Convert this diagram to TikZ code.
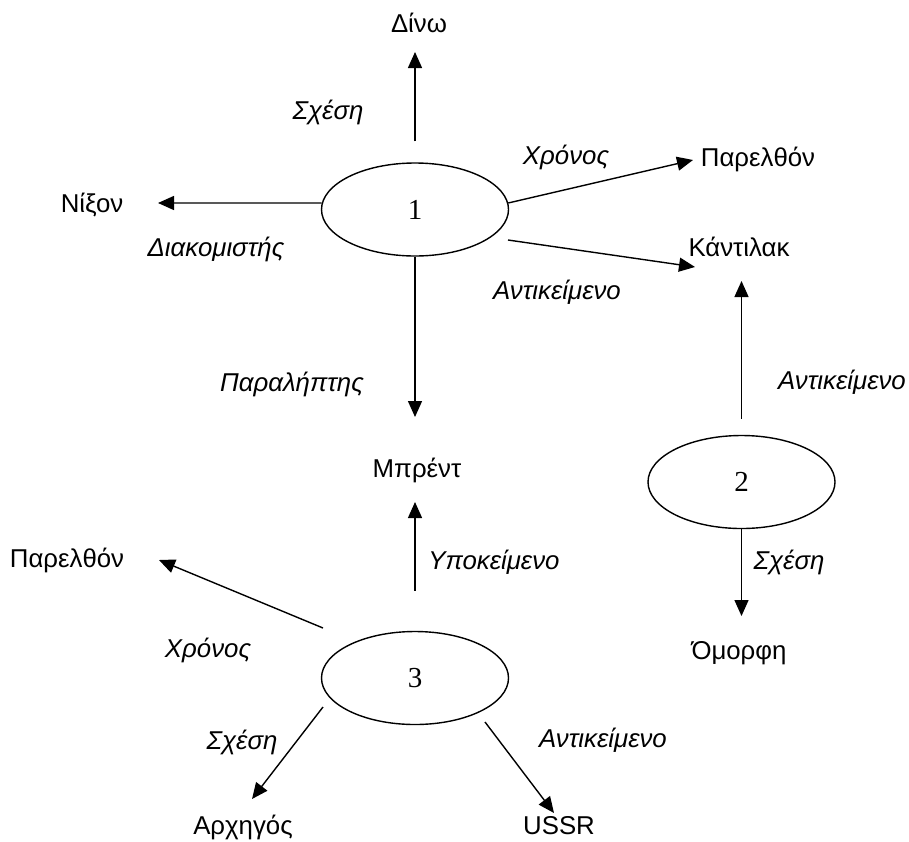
\documentclass[tikz,border=0pt]{standalone}
\usepackage{fontspec}
\setmainfont{Liberation Sans}
\newfontfamily\numfont{Liberation Serif}
\usetikzlibrary{arrows.meta,shapes.geometric}

\tikzset{
  lbl/.style={anchor=base, inner sep=0pt, font=\fontsize{25.8}{30}\selectfont},
  rel/.style={lbl, font=\fontsize{25.8}{30}\selectfont\itshape},
  event/.style={ellipse, draw, line width=1.4pt, minimum width=187pt,
    minimum height=93pt, inner sep=0pt, font=\fontsize{29}{34}\selectfont\numfont},
  arr/.style={-{Triangle[length=16pt,width=14pt]}, line width=1.4pt},
}

\begin{document}
\begin{tikzpicture}[x=1pt, y=-1pt]
\useasboundingbox (0,0) rectangle (909,841);

% event nodes
\node[event] (e1) at (415,209.5) {1};
\node[event] (e2) at (741.5,482) {2};
\node[event] (e3) at (415,678) {3};

% role fillers
\node[lbl] (dino)    at (419,32)  {Δίνω};
\node[lbl] (past1)   at (758,166) {Παρελθόν};
\node[lbl] (nixon)   at (92,212)  {Νίξον};
\node[lbl] (cadillac) at (739,256) {Κάντιλακ};
\node[lbl] (brent)   at (417,477) {Μπρέντ};
\node[lbl] (past3)   at (67,567)  {Παρελθόν};
\node[lbl] (pretty)  at (739,659) {Όμορφη};
\node[lbl] (leader)  at (243,834) {Αρχηγός};
\node[lbl] (ussr)    at (559,834) {USSR};

% role names
\node[rel] (r1a) at (328,119) {Σχέση};
\node[rel] (r1b) at (566,164) {Χρόνος};
\node[rel] (r1c) at (216,256) {Διακομιστής};
\node[rel] (r1d) at (557,299) {Αντικείμενο};
\node[rel] (r1e) at (292,391) {Παραλήπτης};
\node[rel] (r2a) at (842,389) {Αντικείμενο};
\node[rel] (r2b) at (789,569) {Σχέση};
\node[rel] (r3a) at (494,569) {Υποκείμενο};
\node[rel] (r3b) at (208,657) {Χρόνος};
\node[rel] (r3c) at (242,749) {Σχέση};
\node[rel] (r3d) at (603,747) {Αντικείμενο};

% arrow ends
\coordinate (t-dino)  at (415,52);
\coordinate (t-past1) at (693,160);
\coordinate (t-nixon) at (158,203);
\coordinate (s-cad)   at (508,240);
\coordinate (t-cad)   at (695,267);
\coordinate (t-brent1) at (415,417);
\coordinate (t-brent3) at (415,502);
\coordinate (t-cad2)  at (741.5,281);
\coordinate (t-pretty) at (741.5,616);
\coordinate (s-past3) at (323,628);
\coordinate (t-past3) at (159,560);
\coordinate (s-leader) at (323,707);
\coordinate (t-leader) at (252,799);
\coordinate (s-ussr)  at (485,722);
\coordinate (t-ussr)  at (554,813);

% event 1
\draw[arr, shorten <=21pt] (e1.north) -- (t-dino);
\draw[arr] (e1.4) -- (t-past1);
\draw[arr] (e1.176) -- (t-nixon);
\draw[arr] (s-cad) -- (t-cad);
\draw[arr] (e1.south) -- (t-brent1);

% event 2
\draw[arr, shorten <=16pt] (e2.north) -- (t-cad2);
\draw[arr] (e2.south) -- (t-pretty);

% event 3
\draw[arr, shorten <=40pt] (e3.north) -- (t-brent3);
\draw[arr] (s-past3) -- (t-past3);
\draw[arr] (s-leader) -- (t-leader);
\draw[arr] (s-ussr) -- (t-ussr);
\end{tikzpicture}
\end{document}
